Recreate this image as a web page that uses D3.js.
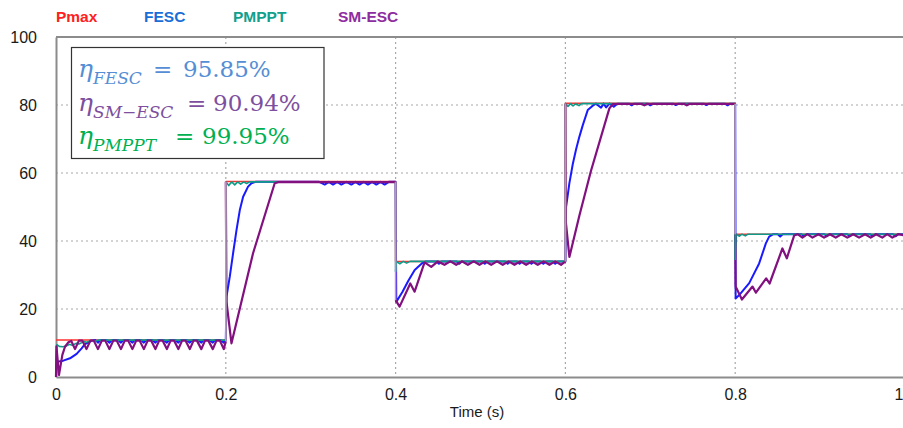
<!DOCTYPE html>
<html><head><meta charset="utf-8">
<script src="https://cdn.jsdelivr.net/npm/d3@7/dist/d3.min.js"></script>
<style>body{margin:0;background:#fff}svg{display:block}</style>
</head><body>
<svg id="c" width="903" height="428"></svg>
<script>
// ---- data (time in s, power) ----
const X_TICKS = [0, 0.2, 0.4, 0.6, 0.8, 1];
const X_LABELS = ["0", "0.2", "0.4", "0.6", "0.8", "1"];
const Y_TICKS = [0, 20, 40, 60, 80, 100];
const X_GRID = [0.2, 0.4, 0.6, 0.8];
const Y_GRID = [20, 40, 60, 80];

const SERIES_NAMES = ["Pmax", "FESC", "PMPPT", "SM-ESC"];

const PMAX = [[0,10.9],[0.2,10.9],[0.2,57.5],[0.4,57.5],[0.4,34],[0.6,34],[0.6,80.5],[0.8,80.5],[0.8,42],[1,42]];

const PMPPT = [
 [0,0],[0.001,9.5],[0.004,9.0],[0.008,8.9],[0.012,9.1],[0.016,9.6],[0.019,9.3],[0.024,9.9],[0.027,9.7],
 [0.033,10.4],[0.036,10.2],[0.042,10.8],[0.046,10.5],[0.05,10.85],[0.2,10.85],
 [0.2,57.4],[0.2035,56.3],[0.207,57.4],[0.2105,56.5],[0.214,57.4],[0.2175,56.7],[0.221,57.4],[0.2245,56.9],[0.228,57.4],[0.4,57.4],
 [0.4,31],[0.401,34],[0.405,33.3],[0.409,34],[0.413,33.5],[0.417,34],[0.6,34],
 [0.6,80.4],[0.603,79.6],[0.606,80.4],[0.609,79.7],[0.612,80.4],[0.616,79.8],[0.619,80.4],[0.8,80.4],
 [0.8,34.4],[0.8015,42],[0.805,41.4],[0.808,42],[0.812,41.5],[0.815,42],[1,42]
];

const FESC = [
 [0,0],[0.0005,3.5],[0.0015,4.5],[0.0086,4.8],[0.0165,5.5],[0.0243,6.8],[0.0302,8.4],[0.0341,9.7],[0.038,10.1],[0.042,10.7],
 [0.0465,10.85],[0.0494,10.1],[0.0525,10.85],[0.0595,10.85],[0.0629,10.1],[0.066,10.85],[0.073,10.85],[0.0765,10.1],[0.0795,10.85],
 [0.0865,10.85],[0.09,10.1],[0.093,10.85],[0.1,10.85],[0.1035,10.1],[0.1065,10.85],[0.1135,10.85],[0.1171,10.1],[0.12,10.85],
 [0.127,10.85],[0.1306,10.1],[0.1335,10.85],[0.1405,10.85],[0.1441,10.1],[0.147,10.85],[0.154,10.85],[0.1576,10.1],[0.1605,10.85],
 [0.1675,10.85],[0.1712,10.1],[0.174,10.85],[0.181,10.85],[0.1847,10.1],[0.1875,10.85],[0.194,10.85],[0.1976,10.1],[0.2,10.85],
 [0.2008,23.6],[0.2047,29.5],[0.2086,36.4],[0.2126,43.2],[0.2165,49.1],[0.2204,53],[0.2262,56],[0.2302,57],[0.235,57.4],
 [0.31,57.4],[0.3165,56.6],[0.3214,57.4],[0.3263,56.6],[0.3312,57.4],[0.3361,56.6],[0.342,57.4],[0.3479,56.6],[0.3527,57.4],
 [0.3576,56.6],[0.3625,57.4],[0.3674,56.6],[0.3723,57.4],[0.3773,56.6],[0.3822,57.4],[0.3871,56.6],[0.392,57.4],[0.4,57.4],
 [0.4008,22.1],[0.408,25],[0.415,28.3],[0.4225,31.5],[0.4321,33.7],[0.436,34],
 [0.448,34],[0.451,33.3],[0.454,34],[0.472,34],[0.475,33.3],[0.478,34],[0.502,34],[0.505,33.3],[0.508,34],
 [0.529,34],[0.532,33.3],[0.535,34],[0.543,34],[0.546,33.3],[0.549,34],[0.557,34],[0.56,33.3],[0.563,34],
 [0.571,34],[0.574,33.3],[0.577,34],[0.585,34],[0.588,33.3],[0.591,34],[0.6,34],
 [0.6008,50],[0.6047,57],[0.6086,62.5],[0.6126,67],[0.6165,70.7],[0.6204,74],[0.6263,78.5],[0.6322,79.8],
 [0.636,80.4],[0.642,79.2],[0.645,80.4],[0.648,79.3],[0.652,80.4],[0.657,79.5],[0.661,80.4],[0.675,80.4],[0.678,79.9],[0.681,80.4],
 [0.697,80.4],[0.7,79.9],[0.703,80.4],[0.727,80.4],[0.73,80],[0.733,80.4],[0.763,80.4],[0.766,80],[0.769,80.4],
 [0.788,80.4],[0.791,79.9],[0.794,80.4],[0.8,80.4],
 [0.8005,23.1],[0.8047,24.1],[0.8165,27.6],[0.8282,33.4],[0.8361,39.3],[0.84,41.3],[0.845,42],
 [0.85,42],[0.853,41.3],[0.856,42],[0.878,42],[0.881,41.4],[0.884,42],[0.905,42],[0.908,41.4],[0.911,42],
 [0.932,42],[0.935,41.4],[0.938,42],[0.959,42],[0.962,41.4],[0.965,42],[0.986,42],[0.989,41.4],[0.992,42],[1,42]
];

const SMESC = [
 [0,0],[0.0005,9],[0.0035,0.6],[0.0075,6.5],[0.0106,8.9],[0.0145,10.2],[0.018,10.6],[0.0224,8.2],[0.027,10.7],[0.031,10.7],
 [0.0359,8.2],[0.0405,10.7],[0.0445,10.7],[0.0494,8.2],[0.054,10.7],[0.058,10.7],[0.0629,8.2],[0.0675,10.7],[0.0715,10.7],
 [0.0765,8.2],[0.081,10.7],[0.085,10.7],[0.09,8.2],[0.0945,10.7],[0.0985,10.7],[0.1035,8.2],[0.108,10.7],[0.112,10.7],
 [0.1171,8.2],[0.1215,10.7],[0.1255,10.7],[0.1306,8.2],[0.135,10.7],[0.139,10.7],[0.1441,8.2],[0.1485,10.7],[0.1525,10.7],
 [0.1576,8.2],[0.162,10.7],[0.166,10.7],[0.1712,8.2],[0.1755,10.7],[0.1795,10.7],[0.1847,8.2],[0.189,10.7],[0.193,10.7],
 [0.1976,8.2],[0.2,10.5],
 [0.2,57.4],[0.2008,22.2],[0.2067,9.9],[0.2321,36.4],[0.2576,57.0],[0.262,57.3],[0.4,57.3],
 [0.4,22.6],[0.4047,20.7],[0.4173,27.5],[0.4224,25.1],[0.4341,33.7],[0.442,32.4],[0.4498,34],
 [0.4576,33],[0.4645,34],[0.4714,33],[0.4782,34],[0.4851,33],[0.492,34],[0.4988,33],[0.5057,34],[0.5126,33],[0.5194,34],
 [0.5262,33],[0.5331,34],[0.54,33],[0.5469,34],[0.5538,33],[0.5606,34],[0.5674,33],[0.5743,34],[0.5812,33],[0.588,34],
 [0.5949,33],[0.6,34],
 [0.6,80.4],[0.6005,45.6],[0.6047,35.3],[0.6165,47.5],[0.63,60.5],[0.6518,79],[0.656,80.3],
 [0.69,80.3],[0.693,79.9],[0.696,80.3],[0.74,80.3],[0.743,79.9],[0.746,80.3],[0.8,80.3],
 [0.8,42],[0.8005,26.6],[0.8079,22.8],[0.8204,26.6],[0.8244,24.8],[0.8365,29],[0.8405,27.5],[0.8556,37.8],[0.8608,34.9],
 [0.8694,41.6],[0.8735,42],[0.8792,41],[0.885,42],[0.891,41],[0.898,42],[0.9047,41],[0.9115,42],[0.9184,41],[0.925,42],
 [0.9321,41],[0.939,42],[0.9459,41],[0.953,42],[0.9596,41],[0.966,42],[0.9733,41],[0.979,42],[0.9851,41],[0.992,42],[1,41.6]
];

const EFF_LABELS = ["FESC", "SM\u2212ESC", "PMPPT"];
const EFF_VALUES = ["95.85%", "90.94%", "99.95%"];

// ---- drawing ----
const svg = d3.select('#c');
const x = d3.scaleLinear().domain([0, 1]).range([56, 905]);
const y = d3.scaleLinear().domain([0, 100]).range([377, 37]);
const FONT = "'Liberation Sans', Arial, sans-serif";

// grid
svg.append('g').selectAll('line').data(Y_GRID).join('line')
  .attr('x1', x(0)).attr('x2', x(1)).attr('y1', d => y(d)).attr('y2', d => y(d))
  .attr('stroke', '#a8a8a8').attr('stroke-width', 1.2).attr('stroke-dasharray', '2,3');
svg.append('g').selectAll('line').data(X_GRID).join('line')
  .attr('x1', d => x(d)).attr('x2', d => x(d)).attr('y1', y(100)).attr('y2', y(0))
  .attr('stroke', '#a8a8a8').attr('stroke-width', 1.2).attr('stroke-dasharray', '2,3');

// frame
svg.append('line').attr('x1', x(0)).attr('x2', x(1)).attr('y1', y(100)).attr('y2', y(100))
  .attr('stroke', '#8c8c8c').attr('stroke-width', 2);

const yAxis = svg.append('g').attr('transform', `translate(${x(0)},0)`)
  .call(d3.axisLeft(y).tickValues(Y_TICKS).tickSize(0).tickPadding(19).tickFormat(d3.format('d')));
const xAxis = svg.append('g').attr('transform', `translate(0,${y(0)})`)
  .call(d3.axisBottom(x).tickValues(X_TICKS).tickSize(0).tickPadding(12).tickFormat((d, i) => X_LABELS[i]));
[yAxis, xAxis].forEach(g => {
  g.select('.domain').attr('stroke', '#8c8c8c').attr('stroke-width', 2);
  g.selectAll('text').attr('font-family', FONT).attr('font-size', 16).attr('fill', '#1a1a1a');
});
// last x label sits at the right edge of the window, as in the original
xAxis.selectAll('.tick').filter(d => d === 1).select('text').attr('text-anchor', 'end').attr('dx', -2);

svg.append('text').attr('x', 477).attr('y', 417).attr('text-anchor', 'middle')
  .attr('font-family', FONT).attr('font-size', 15).attr('fill', '#1a1a1a').text('Time (s)');

// lines: split each series into continuous runs and vertical jumps
function split(data) {
  const runs = [], jumps = [];
  let cur = [data[0]];
  for (let i = 1; i < data.length; i++) {
    if (data[i][0] === data[i - 1][0]) { jumps.push([data[i - 1], data[i]]); runs.push(cur); cur = [data[i]]; }
    else cur.push(data[i]);
  }
  runs.push(cur);
  return {runs, jumps};
}
const line = d3.line().x(d => x(d[0])).y(d => y(d[1]));
const layers = [
  {data: PMAX, color: '#ff3030', jc: '#ff3030', w: 1.5},
  {data: FESC, color: '#1a1aff', jc: '#1a1aff', w: 2},
  {data: PMPPT, color: '#109a88', jc: '#109a88', w: 1.6},
  {data: SMESC, color: '#82107f', jc: '#c98ccb', w: 2.2}
];
const gl = svg.append('g');
layers.forEach(L => {
  const s = split(L.data);
  gl.append('g').selectAll('path').data(s.runs).join('path')
    .attr('d', line).attr('fill', 'none').attr('stroke', L.color)
    .attr('stroke-width', L.w).attr('stroke-linejoin', 'round');
  L.jumps = s.jumps;
});
layers.forEach(L => {
  gl.append('g').selectAll('path').data(L.jumps).join('path')
    .attr('d', line).attr('fill', 'none').attr('stroke', L.jc).attr('stroke-width', 1.6);
});

// legend
const LEG_X = [56, 144, 233, 338];
const LEG_C = ['#ff2020', '#1a6ed8', '#12a08c', '#8e2d9e'];
svg.append('g').selectAll('text').data(SERIES_NAMES).join('text')
  .attr('x', (d, i) => LEG_X[i]).attr('y', 22)
  .attr('font-family', FONT).attr('font-size', 15.5).attr('font-weight', 'bold')
  .attr('fill', (d, i) => LEG_C[i]).text(d => d);

// efficiency box
svg.append('rect').attr('x', 71.5).attr('y', 47.5).attr('width', 252.5).attr('height', 111)
  .attr('fill', '#fff').attr('stroke', '#333').attr('stroke-width', 1.2);
const EFF_C = ['#558ed5', '#7d4f9e', '#00b050'];
const BASE = [77, 111, 144];
const EQ_X = [153, 187, 175];
const NUM_X = [183, 213, 202];
const SERIF = "'DejaVu Serif', 'Liberation Serif', serif";
const box = svg.append('g');
EFF_LABELS.forEach((lab, i) => {
  const g = box.append('g').attr('fill', EFF_C[i]).attr('font-family', SERIF);
  g.append('text').attr('x', 78).attr('y', BASE[i]).attr('font-size', 25).attr('font-style', 'italic').text('\u03B7');
  g.append('text').attr('x', 93).attr('y', BASE[i] + 7).attr('font-size', 17).attr('font-style', 'italic').text(lab);
  g.append('text').attr('x', EQ_X[i]).attr('y', BASE[i]).attr('font-size', 23).text('=');
  g.append('text').attr('x', NUM_X[i]).attr('y', BASE[i]).attr('font-size', 23).text(EFF_VALUES[i]);
});
</script>
</body></html>
